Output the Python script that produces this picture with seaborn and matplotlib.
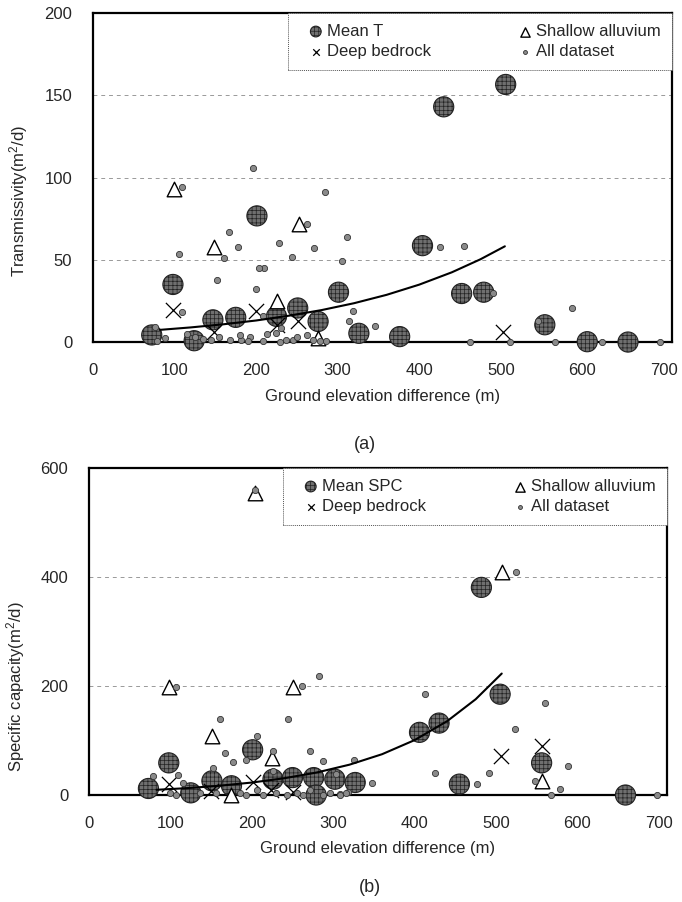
import matplotlib
matplotlib.use("Agg")
import matplotlib.pyplot as plt
import seaborn as sns

# ---- (a) transmissivity vs ground elevation difference ----
t_mean_x = [72, 98, 124, 147, 175, 201, 225, 251, 276, 301, 326, 376, 404, 430, 452, 479, 506, 554, 606, 656]
t_mean_y = [4.3, 35, 0.8, 13.5, 15, 76.7, 15.6, 20.7, 12.5, 30.3, 5.3, 3.3, 58.6, 143, 29.5, 30.3, 156.6, 10.5, 0.2, 0]
t_shal_x = [99, 148, 226, 252, 276]
t_shal_y = [93, 58, 25, 71.5, 2.3]
t_deep_x = [98, 148, 200, 225, 251, 503]
t_deep_y = [19.7, 6, 19, 10.5, 12.5, 6.3]
t_all_x = [109, 105, 196, 167, 178, 161, 152, 210, 204, 200, 228, 262, 271, 244, 284, 311, 305, 319, 314, 346,
           109, 208, 231, 224, 213, 262, 245, 237, 229, 192, 182, 168, 180, 154, 135, 115, 88, 76, 78, 209,
           278, 286, 125, 145, 190, 250, 270, 425, 455, 587, 491, 462, 511, 566, 624, 695, 546]
t_all_y = [94, 53.5, 106, 67, 58, 51, 38, 45, 45, 32, 60, 72, 57, 52, 91, 64, 49, 19, 12.5, 10,
           18, 16, 8.6, 5.3, 5, 4.3, 1.2, 1, 0, 3.3, 1.5, 1.5, 4, 3, 2, 5, 2.7, 9, 0.5, 0.5,
           0.8, 0.8, 3, 1, 0.5, 3, 1, 58, 58.6, 20.7, 30, 0, 0, 0, 0, 0, 12.5]
# exponential trend line
t_trend_x = [82, 120, 160, 200, 240, 280, 320, 360, 400, 440, 475, 505]
t_trend_y = [7.4, 8.9, 10.8, 13.1, 16.0, 19.4, 23.6, 28.7, 34.9, 42.4, 50.3, 58.2]

# ---- (b) specific capacity vs ground elevation difference ----
s_mean_x = [73, 98, 125, 151, 175, 201, 226, 250, 276, 279, 302, 327, 406, 430, 455, 482, 505, 556, 659]
s_mean_y = [12, 59, 4, 26, 17, 83, 29, 32, 32, 0, 29, 23, 115, 132, 20, 381, 185, 59, 0]
s_shal_x = [98, 151, 175, 204, 225, 251, 507, 557]
s_shal_y = [198, 108, 0, 555, 68, 198, 409, 26]
s_deep_x = [98, 150, 201, 224, 250, 506, 557]
s_deep_y = [21, 8, 24, 9, 6, 71, 90]
s_all_x = [204, 107, 262, 283, 161, 244, 206, 167, 177, 193, 152, 272, 287, 325, 226, 226, 79, 109, 116, 348,
           308, 318, 303, 413, 560, 523, 425, 476, 491, 589, 578, 548, 567, 698, 524, 214, 230, 243, 255, 263,
           271, 288, 296, 308, 316, 185, 193, 206, 136, 99, 107, 156]
s_all_y = [560, 198, 200, 218, 140, 140, 109, 77, 60, 64, 50, 80, 62, 65, 80, 44, 35, 37, 22, 22,
           2, 6, 38, 186, 169, 121, 40, 20, 40, 54, 11, 26, 0, 0, 409, 0, 4, 0, 4, 0,
           9, 0, 4, 0, 4, 4, 0, 9, 4, 4, 0, 4]
s_trend_x = [83, 120, 160, 200, 240, 280, 320, 360, 400, 440, 475, 507]
s_trend_y = [9.6, 12.6, 17.0, 22.9, 30.8, 41.4, 55.7, 74.9, 100.8, 135.6, 175.8, 222.9]

sns.set_style("white")
plt.rcParams["font.family"] = ["Liberation Sans", "DejaVu Sans"]
plt.rcParams["mathtext.fontset"] = "custom"
plt.rcParams["mathtext.rm"] = "Liberation Sans"
plt.rcParams["mathtext.it"] = "Liberation Sans:italic"
plt.rcParams["hatch.linewidth"] = 0.5

fig = plt.figure(figsize=(6.82, 9.02), dpi=100)
ax1 = fig.add_axes([0.1364, 0.6208, 0.849, 0.3647])
ax2 = fig.add_axes([0.1305, 0.1186, 0.8475, 0.3625])


def panel(ax, mx, my, shx, shy, dx, dy, ax_, ay_, trx, tr_y, mean_label, ymax, ystep, ylabel, ylab_y):
    sns.scatterplot(x=mx, y=my, ax=ax, s=210, color="#6f6f6f", edgecolor="#222222",
                    linewidth=0.8, hatch="++++", zorder=3, clip_on=False, label=mean_label)
    sns.scatterplot(x=shx, y=shy, ax=ax, s=110, marker="^", facecolor="white",
                    edgecolor="black", linewidth=1.0, zorder=4, clip_on=False, label="Shallow alluvium")
    sns.scatterplot(x=dx, y=dy, ax=ax, s=120, marker="x", color="black",
                    linewidth=0.9, zorder=5, clip_on=False, label="Deep bedrock")
    sns.scatterplot(x=ax_, y=ay_, ax=ax, s=20, color="#8a8a8a", edgecolor="#333333",
                    linewidth=0.6, zorder=6, clip_on=False, label="All dataset")
    sns.lineplot(x=trx, y=tr_y, ax=ax, color="black", linewidth=1.5, zorder=7)

    ax.set_xlim(0, 710)
    ax.set_ylim(0, ymax)
    ax.set_xticks(range(0, 701, 100))
    ax.set_yticks(range(0, ymax + 1, ystep))
    ax.tick_params(axis="x", direction="in", length=3, pad=15, labelsize=12)
    ax.tick_params(axis="y", length=0, pad=15, labelsize=12)
    ax.yaxis.grid(True, linestyle=(0, (4, 4)), color="#999999", linewidth=0.7)
    ax.set_axisbelow(True)
    for sp in ax.spines.values():
        sp.set_linewidth(1.6)
        sp.set_color("black")

    ax.set_xlabel("Ground elevation difference (m)", fontsize=12)
    ax.xaxis.set_label_coords(0.5, -0.142)
    ax.set_ylabel(ylabel, fontsize=12)
    ax.yaxis.set_label_coords(-0.108, ylab_y)

    h, l = ax.get_legend_handles_labels()
    order = [0, 2, 1, 3]
    leg = ax.legend([h[i] for i in order], [l[i] for i in order], ncol=2, loc="upper right",
                    bbox_to_anchor=(1.0, 1.0), borderaxespad=0, fontsize=12, frameon=True,
                    fancybox=False, framealpha=1, edgecolor="#555555", handletextpad=-0.3,
                    handlelength=2.0, columnspacing=4.6, labelspacing=0.3, borderpad=0.65)
    leg.get_frame().set_linewidth(0.7)
    leg.get_frame().set_linestyle((0, (1, 1)))
    sizes = [60, 22, 45, 8]
    for hd, sz in zip(leg.legend_handles, sizes):
        hd.set_sizes([sz])
    leg.set_zorder(10)


panel(ax1, t_mean_x, t_mean_y, t_shal_x, t_shal_y, t_deep_x, t_deep_y, t_all_x, t_all_y,
      t_trend_x, t_trend_y, "Mean T", 200, 50, "Transmissivity(m$^2$/d)", 0.43)
panel(ax2, s_mean_x, s_mean_y, s_shal_x, s_shal_y, s_deep_x, s_deep_y, s_all_x, s_all_y,
      s_trend_x, s_trend_y, "Mean SPC", 600, 200, "Specific capacity(m$^2$/d)", 0.33)

fig.text(0.535, 0.507, "(a)", fontsize=13, ha="center", va="center")
fig.text(0.5425, 0.0165, "(b)", fontsize=13, ha="center", va="center")

fig.savefig("out.png", dpi=100)
